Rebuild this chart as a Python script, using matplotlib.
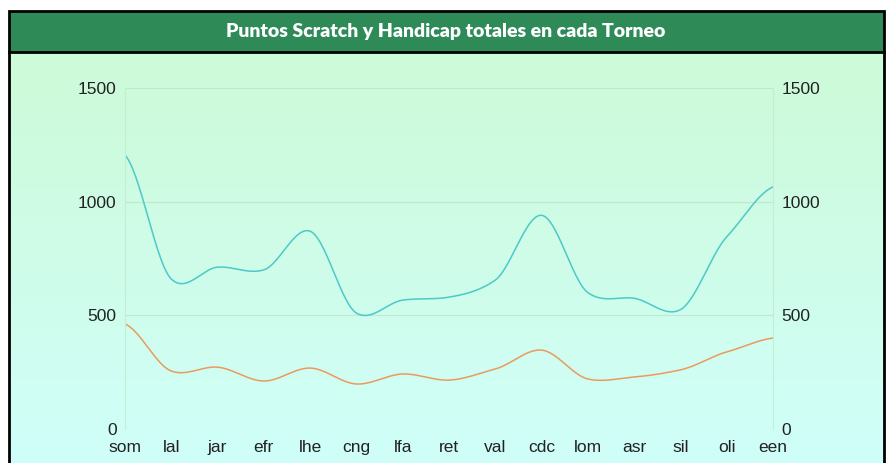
import matplotlib
matplotlib.use("Agg")
import matplotlib.pyplot as plt
from matplotlib.patches import Rectangle
import numpy as np

# data
torneos = ["som", "lal", "jar", "efr", "lhe", "cng", "lfa", "ret", "val",
           "cdc", "lom", "asr", "sil", "oli", "een"]
scratch = [1205, 660, 712, 700, 870, 510, 567, 580, 655, 940, 600, 575, 525, 845, 1065]
handicap = [462, 255, 272, 211, 268, 198, 242, 215, 264, 347, 220, 229, 260, 339, 400]
yticks = [0, 500, 1000, 1500]


def smooth(y, n=30, k=0.4):
    # cardinal spline through the points (k = tangent scale)
    y = np.asarray(y, float)
    p = np.concatenate([[y[0]], y, [y[-1]]])
    xs, ys = [], []
    t = np.linspace(0, 1, n, endpoint=False)
    for i in range(len(y) - 1):
        p0, p1, p2, p3 = p[i], p[i + 1], p[i + 2], p[i + 3]
        m1 = k * (p2 - p0)
        m2 = k * (p3 - p1)
        h00 = 2 * t**3 - 3 * t**2 + 1
        h10 = t**3 - 2 * t**2 + t
        h01 = -2 * t**3 + 3 * t**2
        h11 = t**3 - t**2
        xs.append(i + t)
        ys.append(h00 * p1 + h10 * m1 + h01 * p2 + h11 * m2)
    xs.append([len(y) - 1])
    ys.append([y[-1]])
    return np.concatenate(xs), np.concatenate(ys)


W, H = 892, 463
fig = plt.figure(figsize=(W / 100, H / 100), dpi=100)
fig.patch.set_facecolor("white")

# background gradient + frame
bg = fig.add_axes((0, 0, 1, 1))
bg.set_xlim(0, W)
bg.set_ylim(H, 0)
bg.axis("off")
top = np.array([205, 250, 215]) / 255
bot = np.array([208, 255, 250]) / 255
g = np.linspace(0, 1, 256)[:, None, None]
grad = top * (1 - g) + bot * g
bg.imshow(grad, extent=(9, 884, H, 52), aspect="auto", zorder=0)
bg.add_patch(Rectangle((9, 11), 875, 41, facecolor="#2e8b57",
                       edgecolor="black", linewidth=2, zorder=2))
bg.plot([9, 9], [52, H], color="black", lw=2, zorder=3)
bg.plot([884, 884], [52, H], color="black", lw=2, zorder=3)
bg.text(W / 2, 31.5, "Puntos Scratch y Handicap totales en cada Torneo",
        ha="center", va="center", color="white", fontsize=14,
        fontweight="heavy", family="Lato", zorder=4)

ax = fig.add_axes((125 / W, 1 - 429 / H, (773 - 125) / W, (429 - 88) / H))
ax.patch.set_alpha(0)
x = np.arange(len(torneos))
for vals, col in [(scratch, "#4cc9c9"), (handicap, "#eb9a5f")]:
    sx, sy = smooth(vals)
    ax.plot(sx, sy, color=col, lw=1.1)

ax.set_xlim(0, len(torneos) - 1)
ax.set_ylim(0, 1500)
ax.set_xticks(x)
ax.set_xticklabels(torneos)
ax.set_yticks(yticks)
ax.grid(axis="y", color="#bfe8cf", lw=0.8)
for s in ["top", "bottom"]:
    ax.spines[s].set_visible(False)
for s in ["left", "right"]:
    ax.spines[s].set_color("#c6ecd6")
    ax.spines[s].set_linewidth(0.8)
ax.tick_params(length=0, labelsize=12.5, colors="#222222", pad=8)
ax.tick_params(axis="y", labelright=True, pad=6)
for lab in ax.get_xticklabels() + ax.get_yticklabels() + ax.get_yticklabels(which="both"):
    lab.set_family("Liberation Sans")
for lab in ax.yaxis.get_ticklabels(which="major"):
    lab.set_family("Liberation Sans")
for t in ax.yaxis.get_major_ticks():
    t.label2.set_family("Liberation Sans")

fig.savefig("out.png", dpi=100)
